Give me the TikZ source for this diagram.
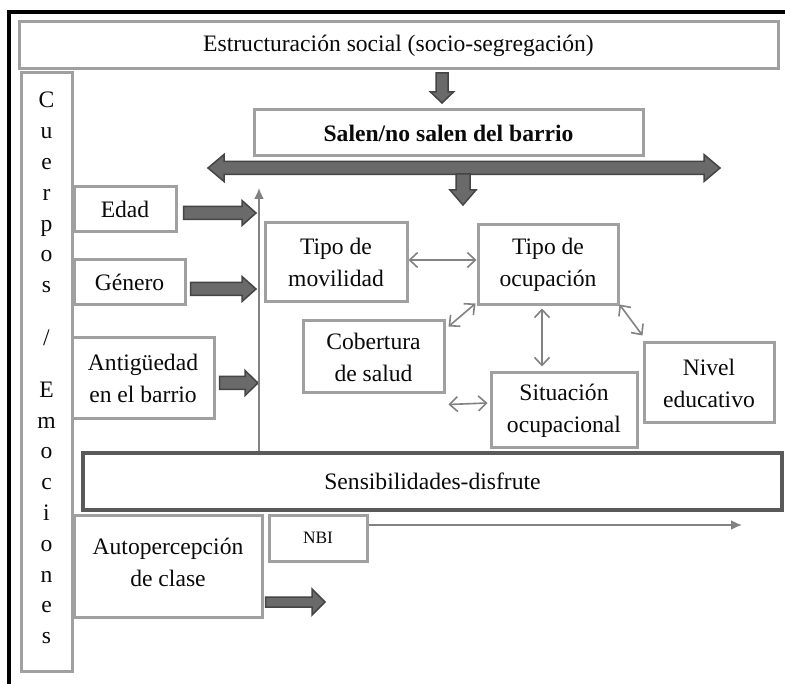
\documentclass[tikz,border=0pt]{standalone}
\usepackage{fontspec}
\setmainfont{Liberation Serif}
\usetikzlibrary{calc,arrows.meta}
\definecolor{boxgray}{HTML}{A0A0A0}
\definecolor{darkbox}{HTML}{5A5A5A}
\definecolor{arrfill}{HTML}{6A6A6A}
\definecolor{arredge}{HTML}{454545}
\definecolor{thingray}{HTML}{828282}
\definecolor{txtcol}{HTML}{0A0A0A}
\tikzset{
  box/.style={draw=boxgray, line width=3pt, fill=white, rectangle, inner sep=0pt, align=center,
    text=txtcol, font=\fontsize{23.6}{32}\selectfont},
  darkframe/.style={box, draw=darkbox, line width=4pt},
  blockarrow/.style={fill=arrfill, draw=arredge, line width=1.5pt, line join=miter},
  thinarrow/.style={draw=thingray, line width=1.6pt, {Straight Barb[length=8pt,width=15pt]}-{Straight Barb[length=8pt,width=15pt]}},
  latexarrow/.style={draw=thingray, line width=1.8pt, -{Latex[length=11pt,width=10pt]}}
}
\newcommand{\blockarr}[5]{%
  \coordinate (ba-h) at ($(#2)!#5!(#1)$);
  \filldraw[blockarrow] ($(#1)!#3!90:(#2)$) -- ($(ba-h)!#3!90:(#2)$) -- ($(ba-h)!#4!90:(#2)$) -- (#2)
    -- ($(ba-h)!#4!-90:(#2)$) -- ($(ba-h)!#3!-90:(#2)$) -- ($(#1)!#3!-90:(#2)$) -- cycle;
}
\newcommand{\dblockarr}[5]{%
  \coordinate (ba-a) at ($(#1)!#5!(#2)$);
  \coordinate (ba-b) at ($(#2)!#5!(#1)$);
  \filldraw[blockarrow] (#1) -- ($(ba-a)!#4!90:(#2)$) -- ($(ba-a)!#3!90:(#2)$) -- ($(ba-b)!#3!90:(#2)$)
    -- ($(ba-b)!#4!90:(#2)$) -- (#2) -- ($(ba-b)!#4!-90:(#2)$) -- ($(ba-b)!#3!-90:(#2)$)
    -- ($(ba-a)!#3!-90:(#2)$) -- ($(ba-a)!#4!-90:(#2)$) -- cycle;
}
\begin{document}
\begin{tikzpicture}[x=1pt,y=-1pt]
\useasboundingbox[fill=white] (0,0) rectangle (785,684);
% outer frame
\draw[line width=4pt, line cap=rect] (9,686) -- (9,12) -- (787,12);

% nodes
\node[box, minimum width=759pt, minimum height=47pt] (top) at (398.5,45.5) {Estructuración social (socio-segregación)};
\node[box, minimum width=51pt, minimum height=598pt] (cuer) at (46.5,372) {};
\node[anchor=north, inner sep=0pt, align=center, text=txtcol, font=\fontsize{23.6}{30.8}\selectfont] (cuertxt) at (46.5,92)
  {C\\u\\e\\r\\p\\o\\s\\[22.5pt]/\\[20.5pt]E\\m\\o\\c\\i\\o\\n\\e\\s};
\node[box, font=\bfseries\fontsize{23.6}{32}\selectfont, minimum width=389pt, minimum height=46pt] (salen) at (448.5,133) {Salen/no salen del barrio};
\node[box, minimum width=102pt, minimum height=45pt] (edad) at (125,209.5) {Edad};
\node[box, minimum width=111pt, minimum height=45pt] (gen) at (129.5,282.5) {Género};
\node[box, minimum width=142pt, minimum height=81pt] (antig) at (143,378.5) {Antigüedad\\en el barrio};
\node[box, minimum width=142pt, minimum height=79pt] (movil) at (336,262.5) {Tipo de\\movilidad};
\node[box, minimum width=140pt, minimum height=80pt] (ocup) at (548,265) {Tipo de\\ocupación};
\node[box, minimum width=141pt, minimum height=72pt] (cob) at (373.5,357) {Cobertura\\de salud};
\node[box, minimum width=146pt, minimum height=75pt] (sit) at (564,410.5) {Situación\\ocupacional};
\node[box, minimum width=130pt, minimum height=80pt] (nivel) at (709,383) {Nivel\\educativo};
\node[darkframe, minimum width=699pt, minimum height=57pt] (sens) at (432.5,481.5) {Sensibilidades-disfrute};
\node[box, minimum width=188pt, minimum height=101pt, text depth=9pt] (autop) at (168,566.5) {Autopercepción\\de clase};
\node[box, font=\fontsize{17.4}{20}\selectfont, minimum width=98pt, minimum height=45pt, text depth=1pt] (nbi) at (318,538.5) {NBI};

% free ends
\coordinate (a1s) at (442,73);
\coordinate (a1e) at (442,103);
\coordinate (hl) at (208,168);
\coordinate (hr) at (720,168);
\coordinate (a2s) at (463,174);
\coordinate (a2e) at (463,205);
\coordinate (vtop) at (259,188);
\coordinate (edadE) at (256,213);
\coordinate (genE) at (256,289);
\coordinate (antE) at (258,383);
\coordinate (autE) at (325,602);
\coordinate (nbiE) at (742,525);

% block arrows
\blockarr{a1s}{a1e}{6pt}{11.5pt}{11pt}
\dblockarr{hl}{hr}{6.5pt}{13.5pt}{16pt}
\blockarr{a2s}{a2e}{7pt}{13pt}{15pt}
\coordinate (edadS) at ($(edad.east |- edadE)+(6,0)$);
\blockarr{edadS}{edadE}{6.5pt}{12.5pt}{14pt}
\coordinate (genS) at ($(gen.east |- genE)+(4,0)$);
\blockarr{genS}{genE}{6.5pt}{12.5pt}{14pt}
\coordinate (antS) at ($(antig.east |- antE)+(4,0)$);
\blockarr{antS}{antE}{6.5pt}{12.5pt}{13pt}
\coordinate (autS) at ($(autop.east |- autE)+(2,0)$);
\blockarr{autS}{autE}{5pt}{13pt}{13pt}

% thin arrows
\draw[latexarrow] (sens.north -| vtop) -- (vtop);
\draw[latexarrow] (nbi.east |- nbiE) -- (nbiE);
\draw[thinarrow] (movil.east |- 0,260) -- (ocup.west |- 0,260);
\draw[thinarrow] ($(ocup.south west)+(-1,-3)$) -- ($(cob.north east)+(3,7)$);
\draw[thinarrow] ($(ocup.south)+(-6,2)$) -- ($(sit.north)+(-22,-5)$);
\draw[thinarrow] ($(ocup.south east)+(0,-2)$) -- ($(nivel.north west)+(0,-6)$);
\draw[thinarrow] ($(cob.south east)+(3,10)$) -- ($(sit.west)+(-2,-7.5)$);
\end{tikzpicture}
\end{document}
